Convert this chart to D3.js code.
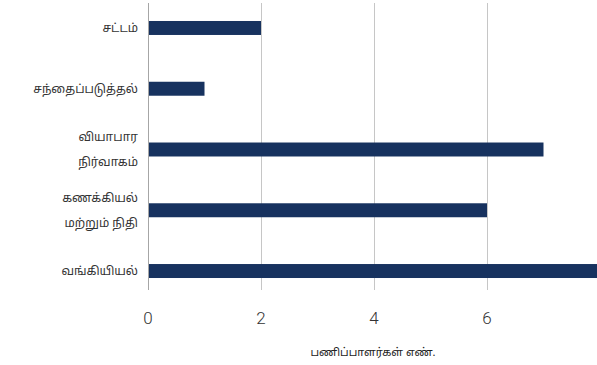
<!DOCTYPE html>
<html><head><meta charset="utf-8">
<script src="https://cdn.jsdelivr.net/npm/d3@7"></script>
<style>body{margin:0;background:#fff}svg{display:block}</style>
</head><body>
<script>
const categories = [["சட்டம்"],["சந்தைப்படுத்தல்"],["வியாபார","நிர்வாகம்"],["கணக்கியல்","மற்றும்  நிதி"],["வங்கியியல்"]];
const values = [2,1,7,6,8];
const ticks = [0,2,4,6];
const axisTitle = "பணிப்பாளர்கள்  எண்.";

const W=597,H=365;
const svg=d3.select("body").append("svg").attr("width",W).attr("height",H);
const x=d3.scaleLinear().domain([0,8]).range([148,600]);
const y=d3.scaleBand().domain(d3.range(categories.length)).range([-2.4,301.4]).paddingInner(0.77).paddingOuter(0.385);

// gridlines
svg.append("g").selectAll("line").data(ticks.filter(t=>t>0)).join("line")
  .attr("x1",d=>x(d)+0.5).attr("x2",d=>x(d)+0.5).attr("y1",3).attr("y2",290)
  .attr("stroke","#c6c6c6").attr("stroke-width",1);
// bars
svg.append("g").selectAll("rect").data(values).join("rect")
  .attr("x",x(0)).attr("y",(d,i)=>y(i)).attr("width",d=>x(d)-x(0)).attr("height",y.bandwidth())
  .attr("fill","#17325f");
// axis line at 0
svg.append("line").attr("x1",x(0)+0.5).attr("x2",x(0)+0.5).attr("y1",3).attr("y2",290)
  .attr("stroke","#a6a6a6").attr("stroke-width",1);
// category labels
const lab=svg.append("g").selectAll("text").data(categories).join("text")
  .attr("text-anchor","end").attr("font-family","'Noto Sans Tamil','Lohit Tamil','Noto Sans',sans-serif")
  .attr("font-size",12).attr("fill","#333");
lab.each(function(lines,i){
  const cy=y(i)+y.bandwidth()/2;
  const n=lines.length, lh=25;
  lines.forEach((l,j)=>{
    d3.select(this).append("tspan").attr("x",138).attr("y",cy+(j-(n-1)/2)*lh).attr("dy","0.35em").text(l);
  });
});
// tick labels
svg.append("g").selectAll("text").data(ticks).join("text")
  .attr("x",d=>x(d)).attr("y",318).attr("dy","0.35em").attr("text-anchor","middle")
  .attr("font-family","Roboto, 'DejaVu Sans', sans-serif").attr("font-weight",300)
  .attr("font-size",17).attr("fill","#333").text(d=>d);
// axis title
svg.append("text").attr("x",373).attr("y",352).attr("dy","0.35em").attr("text-anchor","middle")
  .attr("font-family","'Noto Sans Tamil','Noto Sans',sans-serif").attr("font-size",11).attr("fill","#222")
  .text(axisTitle);
</script>
</body></html>
